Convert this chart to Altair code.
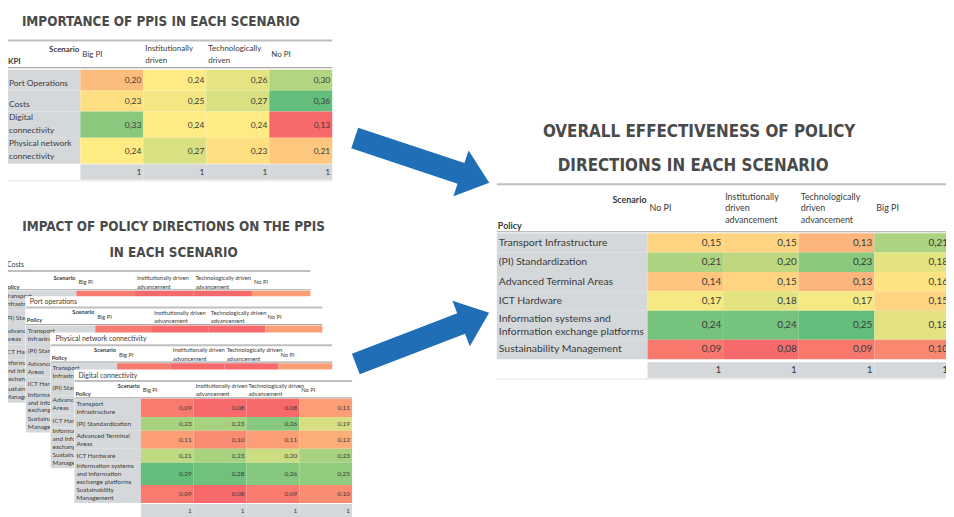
import altair as alt
import pandas as pd
import numpy as np

# ---------------- data ----------------
kpi_rows = ["Port Operations", "Costs", "Digital\nconnectivity", "Physical network\nconnectivity"]
kpi_cols = ["Big PI", "Institutionally\ndriven", "Technologically\ndriven", "No PI"]
kpi_vals = [
    [0.20, 0.24, 0.26, 0.30],
    [0.23, 0.25, 0.27, 0.36],
    [0.33, 0.24, 0.24, 0.13],
    [0.24, 0.27, 0.23, 0.21],
]

overall_rows = [
    "Transport Infrastructure",
    "(PI) Standardization",
    "Advanced Terminal Areas",
    "ICT Hardware",
    "Information systems and\nInformation exchange platforms",
    "Sustainability Management",
]
overall_cols = ["No PI", "Institutionally\ndriven\nadvancement", "Technologically\ndriven\nadvancement", "Big PI"]
overall_vals = [
    [0.15, 0.15, 0.13, 0.21],
    [0.21, 0.20, 0.23, 0.18],
    [0.14, 0.15, 0.13, 0.16],
    [0.17, 0.18, 0.17, 0.15],
    [0.24, 0.24, 0.25, 0.18],
    [0.09, 0.08, 0.09, 0.10],
]

impact_rows = [
    "Transport\nInfrastructure",
    "(PI) Standardization",
    "Advanced Terminal\nAreas",
    "ICT Hardware",
    "Information systems\nand information\nexchange platforms",
    "Sustainability\nManagement",
]
impact_cols = ["Big PI", "Institutionally driven\nadvancement", "Technologically driven\nadvancement", "No PI"]
digital_vals = [
    [0.09, 0.08, 0.08, 0.11],
    [0.23, 0.23, 0.26, 0.19],
    [0.11, 0.10, 0.11, 0.12],
    [0.21, 0.23, 0.20, 0.23],
    [0.29, 0.28, 0.26, 0.25],
    [0.09, 0.08, 0.09, 0.10],
]
costs_first_row = [0.09, 0.08, 0.08, 0.11]
port_first_row = [0.09, 0.08, 0.08, 0.11]
physical_first_row = [0.09, 0.08, 0.08, 0.11]
impact_titles = ["Costs", "Port operations", "Physical network connectivity", "Digital connectivity"]

title_ppi = "IMPORTANCE OF PPIS IN EACH SCENARIO"
title_impact = ["IMPACT OF POLICY DIRECTIONS ON THE PPIS", "IN EACH SCENARIO"]
title_overall = ["OVERALL EFFECTIVENESS OF POLICY", "DIRECTIONS IN EACH SCENARIO"]

# ---------------- style ----------------
GRAY = "#D5D8DB"
LINE = "#BFBFBF"
TXT = "#3A3A3A"
TCOL = "#4A4A4A"
BLUE = "#1F6EB6"
HEAT = ["#F8696B", "#FFEB84", "#63BE7B"]
FONT = "Lato"
TFONT = "DejaVu Sans Condensed, DejaVu Sans, sans-serif"
ONE = pd.DataFrame({"k": [0]})
NL = "length(split(datum.{f}, '\\n'))"


def P(v):
    return v - 8


def txt(s, x, y, size, font=FONT, color=TXT, **kw):
    return alt.Chart(ONE).mark_text(text=s, fontSize=size, font=font, color=color, **kw).encode(
        x=alt.value(P(x)), y=alt.value(P(y)))


def hline(x1, x2, y, color=LINE, w=1.0):
    return alt.Chart(ONE).mark_rule(color=color, strokeWidth=w).encode(
        x=alt.value(P(x1)), x2=alt.value(P(x2)), y=alt.value(P(y)))


def box(x1, y1, x2, y2, color="white"):
    return alt.Chart(ONE).mark_rect(color=color).encode(
        x=alt.value(P(x1)), x2=alt.value(P(x2)), y=alt.value(P(y1)), y2=alt.value(P(y2)))


def layout_rows(ch, k, group=None):
    ch = ch.transform_calculate(nl=NL.format(f="label")).transform_calculate(
        w=f"1 + {k} * (datum.nl - 1)").transform_window(
        cum="sum(w)", sort=[alt.SortField("order")], frame=[None, 0], groupby=group or [])
    return ch.transform_calculate(y0="datum.cum - datum.w", ym="datum.cum - datum.w / 2",
                                  txt="replace(format(datum.value, '.2f'), '.', ',')")


def heat_table(labels, cols, vals, g, dom):
    L = []
    k = g["k"]
    total = sum(1 + k * lab.count("\n") for lab in labels)
    upp = total / (g["r1"] - g["r0"])  # domain units per pixel
    xs = alt.Scale(type="band", domain=cols, range=[P(g["xs"]), P(g["x1"])], paddingInner=0, paddingOuter=0)
    ys = alt.Scale(domain=[0, total], range=[P(g["r0"]), P(g["r1"])], nice=False, zero=False)
    cs = alt.Scale(domain=dom, range=HEAT, interpolate="rgb")
    if "box" in g:
        L.append(box(*g["box"]))
    if "title" in g:
        L.append(txt(g["title"], g["tx"], g["ty"], g["ft"], align="left", baseline="middle"))
    L.append(hline(g["x0"], g.get("lr", g["x1"]), g["ytop"], LINE, 2))
    L.append(hline(g["x0"], g.get("lr", g["x1"]), g["yhdr"], "#A9A9A9", 1.2))
    # headers (block vertically centred on hy)
    hdf = pd.DataFrame({"scen": cols})
    for n in (1, 2, 3):
        L.append(alt.Chart(hdf).transform_filter(NL.format(f="scen") + f" == {n}").mark_text(
            align="left", baseline="middle", dx=2, lineBreak="\n", lineHeight=g["hlh"],
            fontSize=g["fh"], font=FONT, color=TXT).encode(
            x=alt.X("scen:N", scale=xs, axis=None, bandPosition=0.0001),
            y=alt.value(P(g["hy"] - (n - 1) * g["hlh"] / 2)), text="scen:N"))
    L.append(txt("Scenario", g["xs"] - 1, g["sy"], g["fh"], align="right", baseline="middle", fontWeight="bold"))
    L.append(txt(g["pol"], g["x0"] + 1, g["py"], g["fh"], align="left", baseline="middle", fontWeight="bold"))
    # label column
    rdf = pd.DataFrame({"order": list(range(len(labels))), "label": labels, "value": 0.0})
    rows = layout_rows(alt.Chart(rdf), k)
    L.append(rows.mark_rect(color=GRAY).encode(
        x=alt.value(P(g["x0"])), x2=alt.value(P(g["xs"])),
        y=alt.Y("y0:Q", scale=ys, axis=None), y2="cum:Q"))
    if g.get("lb") == "bottom":
        yl = f"datum.cum - {upp} * ({g['bpad']} + (datum.nl - 1) * {g['llh']})"
    else:
        yl = f"datum.ym - {upp} * (datum.nl - 1) * {g['llh'] / 2}"
    L.append(rows.transform_calculate(yl=yl).mark_text(
        align="left", baseline="middle", dx=2, lineBreak="\n", lineHeight=g["llh"],
        fontSize=g["fl"], font=FONT, color=TXT).encode(
        x=alt.value(P(g["x0"])), y=alt.Y("yl:Q", scale=ys, axis=None), text="label:N"))
    # cells
    recs = []
    for i, rowv in enumerate(vals):
        for c, v in zip(cols, rowv):
            recs.append({"order": i, "label": labels[i], "scen": c, "value": v})
    cdf = pd.DataFrame(recs)
    cells = layout_rows(alt.Chart(cdf), k, ["scen"])
    L.append(cells.mark_rect().encode(
        x=alt.X("scen:N", scale=xs, axis=None), y=alt.Y("y0:Q", scale=ys, axis=None), y2="cum:Q",
        color=alt.Color("value:Q", scale=cs, legend=None)))
    L.append(cells.mark_text(align="right", baseline="middle", dx=-2, fontSize=g["fv"], font=FONT,
                             color=TXT).encode(
        x=alt.X("scen:N", scale=xs, axis=None, bandPosition=1),
        y=alt.Y("ym:Q", scale=ys, axis=None), text="txt:N"))
    if "tot" in g:
        t0, t1 = g["tot"]
        tots = alt.Chart(cdf).transform_aggregate(s="sum(value)", groupby=["scen"]).transform_calculate(
            t="format(round(datum.s), 'd')")
        L.append(tots.mark_rect(color=GRAY).encode(
            x=alt.X("scen:N", scale=xs, axis=None), y=alt.value(P(t0)), y2=alt.value(P(t1))))
        L.append(tots.mark_text(align="right", baseline="middle", dx=-2, fontSize=g["fv"], font=FONT,
                                color=TXT).encode(
            x=alt.X("scen:N", scale=xs, axis=None, bandPosition=1),
            y=alt.value(P((t0 + t1) / 2)), text="t:N"))
        L.append(hline(g["x0"], g.get("lr", g["x1"]), t1 + 1, "#E3E3E3", 1))
    return L


def dom_of(v):
    a = np.array(v, dtype=float).ravel()
    return [float(a.min()), float(np.median(a)), float(a.max())]


layers = []

# ---- cascade of impact tables (bottom-left) ----
small = dict(k=0.3, fh=5.8, hlh=8.5, fl=6.5, llh=8, fv=6.5, ft=7, pol="Policy")
casc_geo = [
    dict(x0=3, xs=77, x1=313, ytop=271, yhdr=290, r0=291, r1=404, hy=282.5, sy=278, py=287,
         tx=7, ty=265),
    dict(x0=26, xs=96, x1=325, ytop=308, yhdr=325, r0=326, r1=434, hy=317.5, sy=312, py=321,
         tx=30, ty=302, box=(25.5, 296.5, 340, 517)),
    dict(x0=51, xs=118, x1=335, ytop=346, yhdr=363, r0=364, r1=470, hy=355.5, sy=351, py=359,
         tx=56, ty=340, box=(50.5, 333, 350, 517)),
    dict(x0=75, xs=142, x1=355, ytop=382, yhdr=399, r0=400, r1=505, hy=391, sy=387, py=395,
         tx=79, ty=376.5, box=(74.5, 370.5, 358, 517), tot=(506, 520)),
]
casc_vals = [[costs_first_row], [port_first_row], [physical_first_row], digital_vals]
ddom = dom_of(digital_vals)
for ttl, geo, vals in zip(impact_titles, casc_geo, casc_vals):
    g = dict(small)
    g.update(geo)
    g["title"] = ttl
    layers += heat_table(impact_rows, impact_cols, vals, g, ddom)

# ---- importance of PPIs (top-left) ----
g_kpi = dict(x0=7, xs=81, x1=335, ytop=38.5, yhdr=66, r0=68, r1=163, k=0.25, hy=53, hlh=12,
             sy=48, py=60, pol="KPI", fh=8, fl=8.5, llh=13, fv=8.5, lb="bottom", bpad=7.5,
             tot=(163.5, 179))
layers += heat_table(kpi_rows, kpi_cols, kpi_vals, g_kpi, dom_of(kpi_vals))

# ---- overall effectiveness (right) ----
g_ov = dict(x0=501, xs=653, x1=958, lr=954, ytop=183.5, yhdr=231.5, r0=233, r1=360, k=0.5, hy=208,
            hlh=12, sy=199, py=226, pol="Policy", fh=9, fl=10.5, llh=13, fv=10, tot=(363, 379))
layers += heat_table(overall_rows, overall_cols, overall_vals, g_ov, dom_of(overall_vals))

# ---- titles ----
layers.append(txt(title_ppi, 22, 24, 13.5, font=TFONT, color=TCOL, align="left", baseline="alphabetic",
                  fontWeight="bold"))
layers.append(txt(title_impact[0], 175, 231, 13.5, font=TFONT, color=TCOL, align="center",
                  baseline="alphabetic", fontWeight="bold"))
layers.append(txt(title_impact[1], 175, 257, 13.5, font=TFONT, color=TCOL, align="center",
                  baseline="alphabetic", fontWeight="bold"))
layers.append(txt(title_overall[0], 705, 136, 17, font=TFONT, color=TCOL, align="center",
                  baseline="alphabetic", fontWeight="bold"))
layers.append(txt(title_overall[1], 699, 170, 17, font=TFONT, color=TCOL, align="center",
                  baseline="alphabetic", fontWeight="bold"))

# ---- arrows ----
ARROW = "M -1 -0.153 L 0.58 -0.153 L 0.58 -0.34 L 1 0 L 0.58 0.34 L 0.58 0.153 L -1 0.153 Z"


def arrow(cx, cy, length, angle):
    return alt.Chart(ONE).mark_point(shape=ARROW, size=length ** 2, angle=angle, filled=True,
                                     color=BLUE, opacity=1, strokeWidth=0).encode(
        x=alt.value(P(cx)), y=alt.value(P(cy)))


layers.append(arrow(425.5, 159.5, 143, 18.4))
layers.append(arrow(426, 339, 144, 339))

chart = alt.layer(*layers).resolve_scale(x="independent", y="independent", color="independent").properties(
    width=946, height=509, padding=0, autosize=alt.AutoSizeParams(type="none"), background="white"
).configure_view(stroke=None)

chart.save("out.html", embed_options={"renderer": "svg", "actions": False})
